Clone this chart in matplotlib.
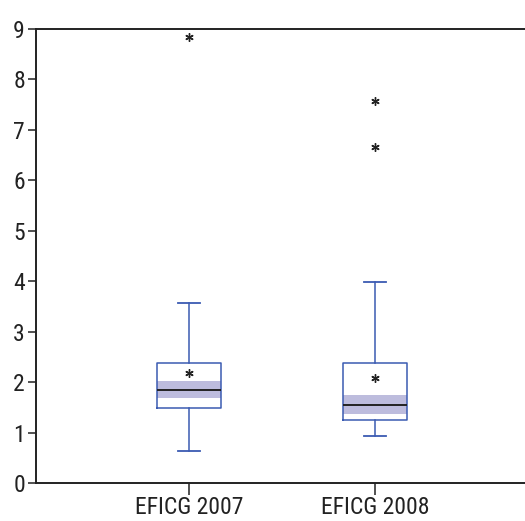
import matplotlib
matplotlib.use("Agg")
import matplotlib.pyplot as plt

# Box plot summary statistics per series
labels = ["EFICG 2007", "EFICG 2008"]
medians = [1.84, 1.55]
q1 = [1.48, 1.24]
q3 = [2.38, 2.37]
whisk_lo = [0.64, 0.94]
whisk_hi = [3.56, 3.99]
means = [2.19, 2.09]
median_ci_lo = [1.69, 1.37]
median_ci_hi = [2.02, 1.74]
outliers = [[8.84], [7.57, 6.66]]

plt.rcParams["font.family"] = ["Roboto Condensed", "Liberation Sans", "DejaVu Sans"]

box_col = "#3b5bb2"
band_col = "#bdbcdd"
text_col = "#222222"

fig = plt.figure(figsize=(5.25, 5.21), dpi=100)
ax = fig.add_axes([36 / 525, 38 / 521, 1 - 36 / 525, (483 - 29) / 521])

positions = [1, 2]
box_w = 0.344
stats = []
for i in range(len(labels)):
    stats.append(dict(label=labels[i], med=medians[i], q1=q1[i], q3=q3[i],
                      whislo=whisk_lo[i], whishi=whisk_hi[i], mean=means[i],
                      fliers=outliers[i]))
    # shaded confidence band around the median
    ax.fill_between([positions[i] - box_w / 2, positions[i] + box_w / 2],
                    median_ci_lo[i], median_ci_hi[i], color=band_col,
                    linewidth=0, zorder=1)

ax.bxp(stats, positions=positions, widths=box_w, showmeans=True,
       showfliers=True, capwidths=0.118, patch_artist=False,
       boxprops=dict(color=box_col, linewidth=1.1),
       whiskerprops=dict(color=box_col, linewidth=1.1),
       capprops=dict(color=box_col, linewidth=1.3),
       medianprops=dict(color="#222222", linewidth=1.4),
       meanprops=dict(marker=(6, 2, 0), markersize=6, markeredgecolor="#222222",
                      markerfacecolor="#222222", markeredgewidth=1.0),
       flierprops=dict(marker=(6, 2, 0), markersize=6, markeredgecolor="#222222",
                       markerfacecolor="#222222", markeredgewidth=1.0),
       zorder=2)

ax.set_xlim(0.177, 2.806)
ax.set_ylim(0, 9)
ax.set_yticks(range(0, 10))
ax.set_xticks(positions)
ax.set_xticklabels(labels)

for s in ["left", "top", "bottom"]:
    ax.spines[s].set_color("#222222")
    ax.spines[s].set_linewidth(1.4)
ax.spines["right"].set_visible(False)

ax.tick_params(axis="y", direction="out", length=6, width=1.1, colors="#222222",
               labelsize=17, labelcolor=text_col, pad=2)
ax.tick_params(axis="x", direction="out", length=8.5, width=1.1, colors="#222222",
               labelsize=17, labelcolor=text_col, pad=1)

fig.savefig("out.png", dpi=100)
